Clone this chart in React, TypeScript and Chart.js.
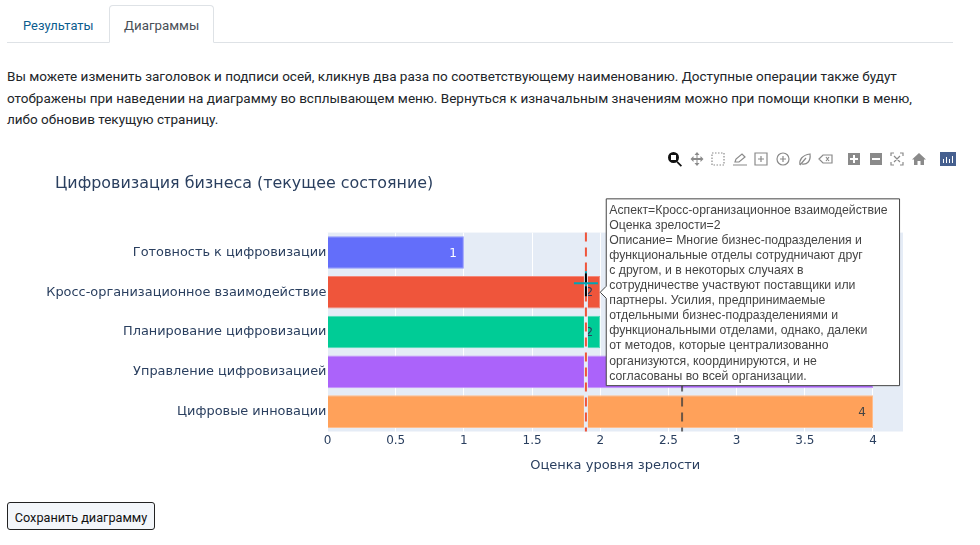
import React, { useEffect, useRef } from "react";
import { Chart, registerables, Tooltip } from "chart.js";

Chart.register(...registerables);

const categories = [
  "Готовность к цифровизации",
  "Кросс-организационное взаимодействие",
  "Планирование цифровизации",
  "Управление цифровизацией",
  "Цифровые инновации",
];
const maturity = [1, 2, 2, 4, 4];
const barColors = ["#636efa", "#EF553B", "#00cc96", "#ab63fa", "#FFA15A"];
const barEdges = ["#8f96fb", "#f4887a", "#4ddcb5", "#c491fb", "#ffbd8c"];
const labelColors = ["#ffffff", "#2a3f5f", "#2a3f5f", "#2a3f5f", "#444444"];
const xTicks = [0, 0.5, 1, 1.5, 2, 2.5, 3, 3.5, 4];
const xMax = 4.22;
const refMine = 1.895;
const refOther = 2.6;
const activeIndex = 1;
const tooltipLines = [
  "Аспект=Кросс-организационное взаимодействие",
  "Оценка зрелости=2",
  "Описание= Многие бизнес-подразделения и",
  "функциональные отделы сотрудничают друг",
  "с другом, и в некоторых случаях в",
  "сотрудничестве участвуют поставщики или",
  "партнеры. Усилия, предпринимаемые",
  "отдельными бизнес-подразделениями и",
  "функциональными отделами, однако, далеки",
  "от методов, которые централизованно",
  "организуются, координируются, и не",
  "согласованы во всей организации.",
];
const pageLines = [
  "Вы можете изменить заголовок и подписи осей, кликнув два раза по соответствующему наименованию. Доступные операции также будут",
  "отображены при наведении на диаграмму во всплывающем меню. Вернуться к изначальным значениям можно при помощи кнопки в меню,",
  "либо обновив текущую страницу.",
];

const AXIS_FONT = "'DejaVu Sans', Verdana, sans-serif";
const INK = "#2a3f5f";

const chartDecor = {
  id: "chartDecor",
  afterLayout(chart: any) {
    if (chart.titleBlock) chart.titleBlock.left = 48;
  },
  beforeDatasetsDraw(chart: any) {
    const { ctx, chartArea: a } = chart;
    ctx.save();
    ctx.globalCompositeOperation = "destination-over";
    ctx.fillStyle = "#e5ecf6";
    ctx.fillRect(a.left, a.top, a.right - a.left, a.bottom - a.top);
    ctx.restore();
  },
  afterDatasetsDraw(chart: any) {
    const { ctx, chartArea: a, scales } = chart;
    const meta = chart.getDatasetMeta(0);
    ctx.save();
    ctx.font = `12px ${AXIS_FONT}`;
    ctx.textAlign = "right";
    ctx.textBaseline = "middle";
    maturity.forEach((v, i) => {
      ctx.fillStyle = labelColors[i];
      ctx.fillText(String(v), scales.x.getPixelForValue(v) - 7, meta.data[i].y + 1);
    });
    const mine = scales.x.getPixelForValue(refMine);
    const other = scales.x.getPixelForValue(refOther);
    ctx.strokeStyle = "#e5ecf6";
    ctx.lineWidth = 4;
    ctx.beginPath();
    ctx.moveTo(mine, a.top);
    ctx.lineTo(mine, a.bottom);
    ctx.stroke();
    ctx.strokeStyle = "#EF553B";
    ctx.lineWidth = 2;
    ctx.setLineDash([9, 6]);
    ctx.beginPath();
    ctx.moveTo(mine, a.top);
    ctx.lineTo(mine, a.bottom);
    ctx.stroke();
    ctx.strokeStyle = "rgba(60,60,60,0.75)";
    ctx.lineWidth = 2;
    ctx.beginPath();
    ctx.moveTo(other, a.top);
    ctx.lineTo(other, a.bottom);
    ctx.stroke();
    ctx.setLineDash([]);
    const cy = meta.data[activeIndex].y - 9;
    ctx.fillStyle = "#00a5b5";
    ctx.fillRect(mine - 12, cy - 1, 24, 2);
    ctx.fillRect(mine - 1, cy - 12, 2, 2);
    ctx.fillRect(mine - 1, cy - 1, 2, 4);
    ctx.fillStyle = "#000000";
    ctx.fillRect(mine - 1, cy - 10, 2, 9);
    ctx.fillRect(mine - 1, cy + 3, 2, 10);
    ctx.restore();
  },
};

function ToolIcon({ d, fill = "#8a8a8a", stroke = "none", dash }: { d: string; fill?: string; stroke?: string; dash?: string }) {
  return (
    <svg width="16" height="16" viewBox="0 0 16 16" style={{ display: "block" }}>
      <path d={d} fill={fill} fillRule="evenodd" stroke={stroke} strokeWidth={stroke === "none" ? 0 : 1.2} strokeDasharray={dash} />
    </svg>
  );
}

const toolbar: { x: number; d: string; fill?: string; stroke?: string; dash?: string }[] = [
  { x: 667, d: "M6.5 1a5.5 5.5 0 1 1 0 11 5.5 5.5 0 0 1 0-11zM4 4v5h5V4zM10.5 10l4.5 4.5-1.2 1.2L9.5 11.5z", fill: "#111111" },
  { x: 689, d: "M8 1l2.5 3h-2v3h3v-2l3 3-3 3v-2h-3v3h2L8 15l-2.5-3h2V9h-3v2l-3-3 3-3v2h3V4h-2z" },
  { x: 710, d: "M2 2h12v12H2z", fill: "none", stroke: "#8a8a8a", dash: "1.5 1.5" },
  { x: 732, d: "M3 11l1-3 6-5 3 3-6 5zM1 14h14", fill: "none", stroke: "#8a8a8a" },
  { x: 753, d: "M2 2h12v12H2zM8 5v6M5 8h6", fill: "none", stroke: "#8a8a8a" },
  { x: 775, d: "M8 2a6 6 0 1 1 0 12A6 6 0 0 1 8 2zM8 5v6M5 8h6", fill: "none", stroke: "#8a8a8a" },
  { x: 797, d: "M3 14c-1-5 2-10 10-11 1 7-3 11-8 10M3 14L9 7", fill: "none", stroke: "#8a8a8a" },
  { x: 818, d: "M1 8l4-4h9v8H5zM8 6l3 4M11 6l-3 4", fill: "none", stroke: "#8a8a8a" },
  { x: 846, d: "M2 2h12v12H2zM7 4v3H4v2h3v3h2V9h3V7H9V4z" },
  { x: 868, d: "M2 2h12v12H2zM4 7v2h8V7z" },
  { x: 889, d: "M2 5V2h3M11 2h3v3M14 11v3h-3M5 14H2v-3M5 5l6 6M11 5l-6 6", fill: "none", stroke: "#8a8a8a" },
  { x: 911, d: "M8 2l7 6.5h-2V14H9.5v-4h-3v4H3V8.5H1z" },
  { x: 940, d: "M0 1h16v14H0zM3 8v4h1V8zM6 6v6h1V6zM9 8v4h1V8zM12 5v7h1V5z", fill: "#46608f" },
];

export default function App() {
  const ref = useRef<HTMLCanvasElement>(null);
  useEffect(() => {
    (Tooltip as any).positioners.barEnd = (items: any[]) => {
      const el = items[0]?.element;
      return el ? { x: el.x, y: el.y } : false;
    };
    const chart = new Chart(ref.current!, {
      type: "bar",
      data: {
        labels: categories,
        datasets: [
          {
            data: maturity,
            backgroundColor: barColors,
            borderColor: barEdges,
            borderWidth: 1,
            barPercentage: 0.82,
            categoryPercentage: 1,
          },
        ],
      },
      plugins: [chartDecor],
      options: {
        indexAxis: "y",
        animation: false,
        responsive: false,
        events: [],
        layout: { padding: { left: 30, right: 50, top: 0, bottom: 0 } },
        scales: {
          x: {
            type: "linear",
            min: 0,
            max: xMax,
            afterBuildTicks: (s: any) => {
              s.ticks = xTicks.map((value) => ({ value }));
            },
            grid: { color: "#ffffff", lineWidth: 1, drawTicks: false },
            border: { display: false },
            ticks: { color: INK, font: { family: AXIS_FONT, size: 12 }, padding: 2, maxRotation: 0, callback: (v: any) => String(v) },
            title: { display: true, text: "Оценка уровня зрелости", color: INK, font: { family: AXIS_FONT, size: 13 }, padding: { top: 3, bottom: 7 } },
            afterFit: (s: any) => {
              s.height = 48.5;
            },
          },
          y: {
            type: "category",
            grid: { display: false, drawTicks: false },
            border: { display: false },
            ticks: { color: INK, font: { family: AXIS_FONT, size: 12.9 }, padding: 1, autoSkip: false },
            afterFit: (s: any) => {
              s.width = 290.5;
            },
          },
        },
        plugins: {
          legend: { display: false },
          title: {
            display: true,
            text: "Цифровизация бизнеса (текущее состояние)",
            align: "start",
            color: INK,
            font: { family: AXIS_FONT, size: 15.9, weight: "normal" },
            padding: { top: 34, bottom: 39.5 },
          },
          tooltip: {
            enabled: true,
            position: "barEnd" as any,
            xAlign: "left",
            yAlign: "center",
            backgroundColor: "#ffffff",
            borderColor: "#444444",
            borderWidth: 1,
            cornerRadius: 0,
            caretSize: 6,
            caretPadding: 0,
            displayColors: false,
            titleColor: "#444444",
            bodyColor: "#444444",
            bodyFont: { family: "'Liberation Sans', Arial, sans-serif", size: 12.25, lineHeight: 1.2 },
            bodySpacing: 0.4,
            padding: { left: 3, right: 12, top: 4, bottom: 2 },
            callbacks: {
              title: () => [],
              label: () => tooltipLines,
            },
          },
        },
      },
    } as any);
    chart.tooltip!.setActiveElements([{ datasetIndex: 0, index: activeIndex }], { x: 0, y: 0 });
    chart.update();
    return () => chart.destroy();
  }, []);

  const pageFont = "Roboto, 'Noto Sans', sans-serif";
  return (
    <div style={{ position: "absolute", left: 0, top: 0, width: 980, height: 545, overflow: "hidden", background: "#fff", fontFamily: pageFont, color: "#212529" }}>
      <div style={{ position: "absolute", left: 7, right: 27, top: 42, height: 1, background: "#dee2e6" }} />
      <div style={{ position: "absolute", left: 23, top: 18, fontSize: 12.9, color: "#0b5c8e" }}>Результаты</div>
      <div style={{ position: "absolute", left: 109, top: 5, width: 105, height: 38, boxSizing: "border-box", border: "1px solid #dee2e6", borderBottom: "1px solid #fff", borderRadius: "4px 4px 0 0", background: "#fff" }} />
      <div style={{ position: "absolute", left: 124, top: 18, fontSize: 13.3, color: "#495057" }}>Диаграммы</div>
      {pageLines.map((t, i) => (
        <div key={i} style={{ position: "absolute", left: 7, top: 68 + i * 21.5, fontSize: 13.5, whiteSpace: "nowrap" }}>{t}</div>
      ))}
      {toolbar.map((b, i) => (
        <div key={i} style={{ position: "absolute", left: b.x, top: 151 }}>
          <ToolIcon d={b.d} fill={b.fill} stroke={b.stroke} dash={b.dash} />
        </div>
      ))}
      <canvas ref={ref} width={946} height={340} style={{ position: "absolute", left: 7, top: 140, width: 946, height: 340 }} />
      <div style={{ position: "absolute", left: 7, top: 502, width: 148, height: 28, boxSizing: "border-box", border: "1px solid #222", borderRadius: 3, background: "#f3f6fa", fontSize: 12.7, whiteSpace: "nowrap", textAlign: "center", lineHeight: "29px", color: "#111" }}>Сохранить диаграмму</div>
    </div>
  );
}
